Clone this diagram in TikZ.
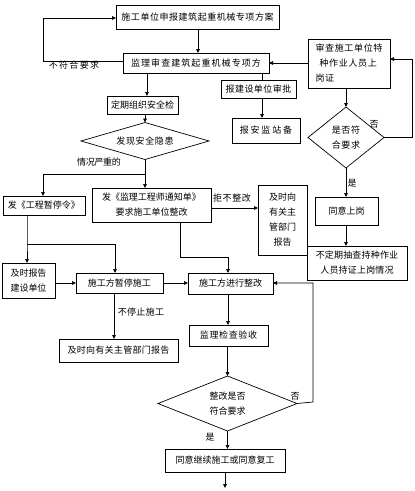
\documentclass[tikz,border=0pt]{standalone}
\usepackage{fontspec}
\setmainfont{Noto Sans CJK SC}
\usetikzlibrary{arrows.meta,shapes.geometric}
\begin{document}
\begin{tikzpicture}[x=1pt,y=-1pt,
  every node/.style={font=\fontsize{9}{15}\selectfont, inner sep=0pt, outer sep=0pt},
  box/.style={draw, line width=0.7pt, rectangle, align=center, fill=white},
  dia/.style={draw, line width=0.7pt, diamond, align=center, aspect=2},
  arr/.style={-{Triangle[length=4pt,width=3.6pt]}, line width=0.7pt},
  ln/.style={line width=0.7pt},
  lbl/.style={font=\fontsize{9}{11}\selectfont},
  sp/.style={font=\fontsize{9}{15}\selectfont\addfontfeature{LetterSpace=#1}}
]
\useasboundingbox[fill=white] (0,0) rectangle (415,491);

% left column / main flow
\node[box, minimum width=163pt, minimum height=24pt, sp=6] (b1) at (197.5,17) {施工单位申报建筑起重机械专项方案};
\node[box, minimum width=146pt, minimum height=20pt, sp=12] (b2) at (196,63) {监理审查建筑起重机械专项方};
\node[box, minimum width=71pt, minimum height=18pt] (b3) at (142.5,105) {定期组织安全检};
\node[box, minimum width=75pt, minimum height=18pt, sp=5] (b4) at (258.5,89) {报建设单位审批};
\node[box, minimum width=68pt, minimum height=25pt, sp=20] (b5) at (266,130.5) {报安监站备};
\node[dia, minimum width=128pt, minimum height=32pt, sp=7] (d1) at (145,141) {发现安全隐患};

% right column
\node[box, minimum width=82pt, minimum height=49pt, align=left, sp=7] (rb1) at (349,63.5) {审查施工单位特\\\hspace*{4pt}种作业人员上\\岗证};
\node[dia, minimum width=76pt, minimum height=61pt, sp=6] (d2) at (346,137.5) {是否符\\合要求};
\node[box, minimum width=63pt, minimum height=28pt] (rb2) at (346.5,211) {同意上岗};
\node[box, minimum width=100pt, minimum height=34pt, sp=2] (rb3) at (357,263) {不定期抽查持种作业\\人员持证上岗情况};

% middle rows
\node[box, minimum width=82pt, minimum height=19pt] (b6) at (44,205.5) {发《工程暂停令》};
\node[box, minimum width=119pt, minimum height=34pt] (b7) at (151.5,205) {发《监理工程师通知单》\\要求施工单位整改};
\node[box, minimum width=49pt, minimum height=70pt] (b8) at (282.5,220) {及时向\\有关主\\管部门\\报告};
\node[box, minimum width=53pt, minimum height=35pt] (b9) at (28.5,280.5) {及时报告\\建设单位};
\node[box, minimum width=87pt, minimum height=20pt] (b10) at (119.5,283) {施工方暂停施工};
\node[box, minimum width=85pt, minimum height=21pt] (b11) at (230.5,283.5) {施工方进行整改};
\node[box, minimum width=119pt, minimum height=23pt, sp=3] (b12) at (118.5,350.5) {及时向有关主管部门报告};
\node[box, minimum width=79pt, minimum height=21pt, sp=7] (b13) at (228.5,335.5) {监理检查验收};
\node[dia, minimum width=139pt, minimum height=55pt] (d3) at (227.5,403.5) {整改是否\\符合要求};
\node[box, minimum width=120pt, minimum height=23pt] (b14) at (225,460.5) {同意继续施工或同意复工};
\coordinate (end) at (225,488);

% labels
\node[lbl, sp=15] (l1) at (74,65) {不符合要求};
\node[lbl, sp=-4] (l2) at (99,162) {情况严重的};
\node[lbl, sp=7] (l3) at (232,198) {拒不整改};
\node[lbl, sp=4] (l4) at (141,312) {不停止施工};
\node[lbl] (l5) at (374,124) {否};
\node[lbl] (l6) at (352,183) {是};
\node[lbl] (l7) at (295,396) {否};
\node[lbl] (l8) at (210,437) {是};

% connectors
\draw[arr] (b1.south -| 198,0) -- (b2.north -| 198,0);
\draw[arr] (b2.west |- 0,61) -- (43,61) -- (43,18) -- (b1.west |- 0,18);
\draw[arr] (b2.south -| 147,0) -- (b3.north -| 147,0);
\draw[ln] (b2.south -| 262,0) -- (b4.north -| 262,0);
\draw[arr] (b4.south -| 262,0) -- (b5.north -| 262,0);
\draw[arr] (rb1.west |- 0,63) -- (b2.east |- 0,63);
\draw[arr] (rb1.south -| d2.north) -- (d2.north);
\draw[arr] (d2.east) -- (412,137.5) -- (412,59) -- (rb1.east |- 0,59);
\draw[arr] (d2.south) -- (rb2.north -| d2.south);
\draw[arr] (rb2.south -| 346,0) -- (rb3.north -| 346,0);
\draw[arr] (b3.south -| d1.north) -- (d1.north);
\draw[arr] (d1.south) -- (b7.north -| d1.south);
\draw[arr] (d1.south |- 0,174) -- (43,174) -- (b6.north -| 43,0);
\draw[arr] (b7.east |- 0,208) -- (b8.west |- 0,208);
\draw[arr] (b7.south -| 180,0) -- (180,257) -- (228,257) -- (b11.north -| 228,0);
\draw[arr] (b6.south -| 27,0) -- (27,244) -- (b9.north -| 27,0);
\draw[arr] (27,244) -- (115,244) -- (b10.north -| 115,0);
\draw[arr] (b9.east |- 0,283) -- (b10.west |- 0,283);
\draw[arr] (b10.east |- 0,283) -- (b11.west |- 0,283);
\draw[arr] (b10.south -| 114,0) -- (b12.north -| 114,0);
\draw[arr] (b11.south -| 228,0) -- (b13.north -| 228,0);
\draw[arr] (b13.south -| d3.north) -- (d3.north);
\draw[arr] (d3.east) -- (313,402) -- (313,283) -- (b11.east |- 0,283);
\draw[arr] (d3.south) -- (b14.north -| d3.south);
\draw[arr] (b14.south -| end) -- (end);
\end{tikzpicture}
\end{document}
